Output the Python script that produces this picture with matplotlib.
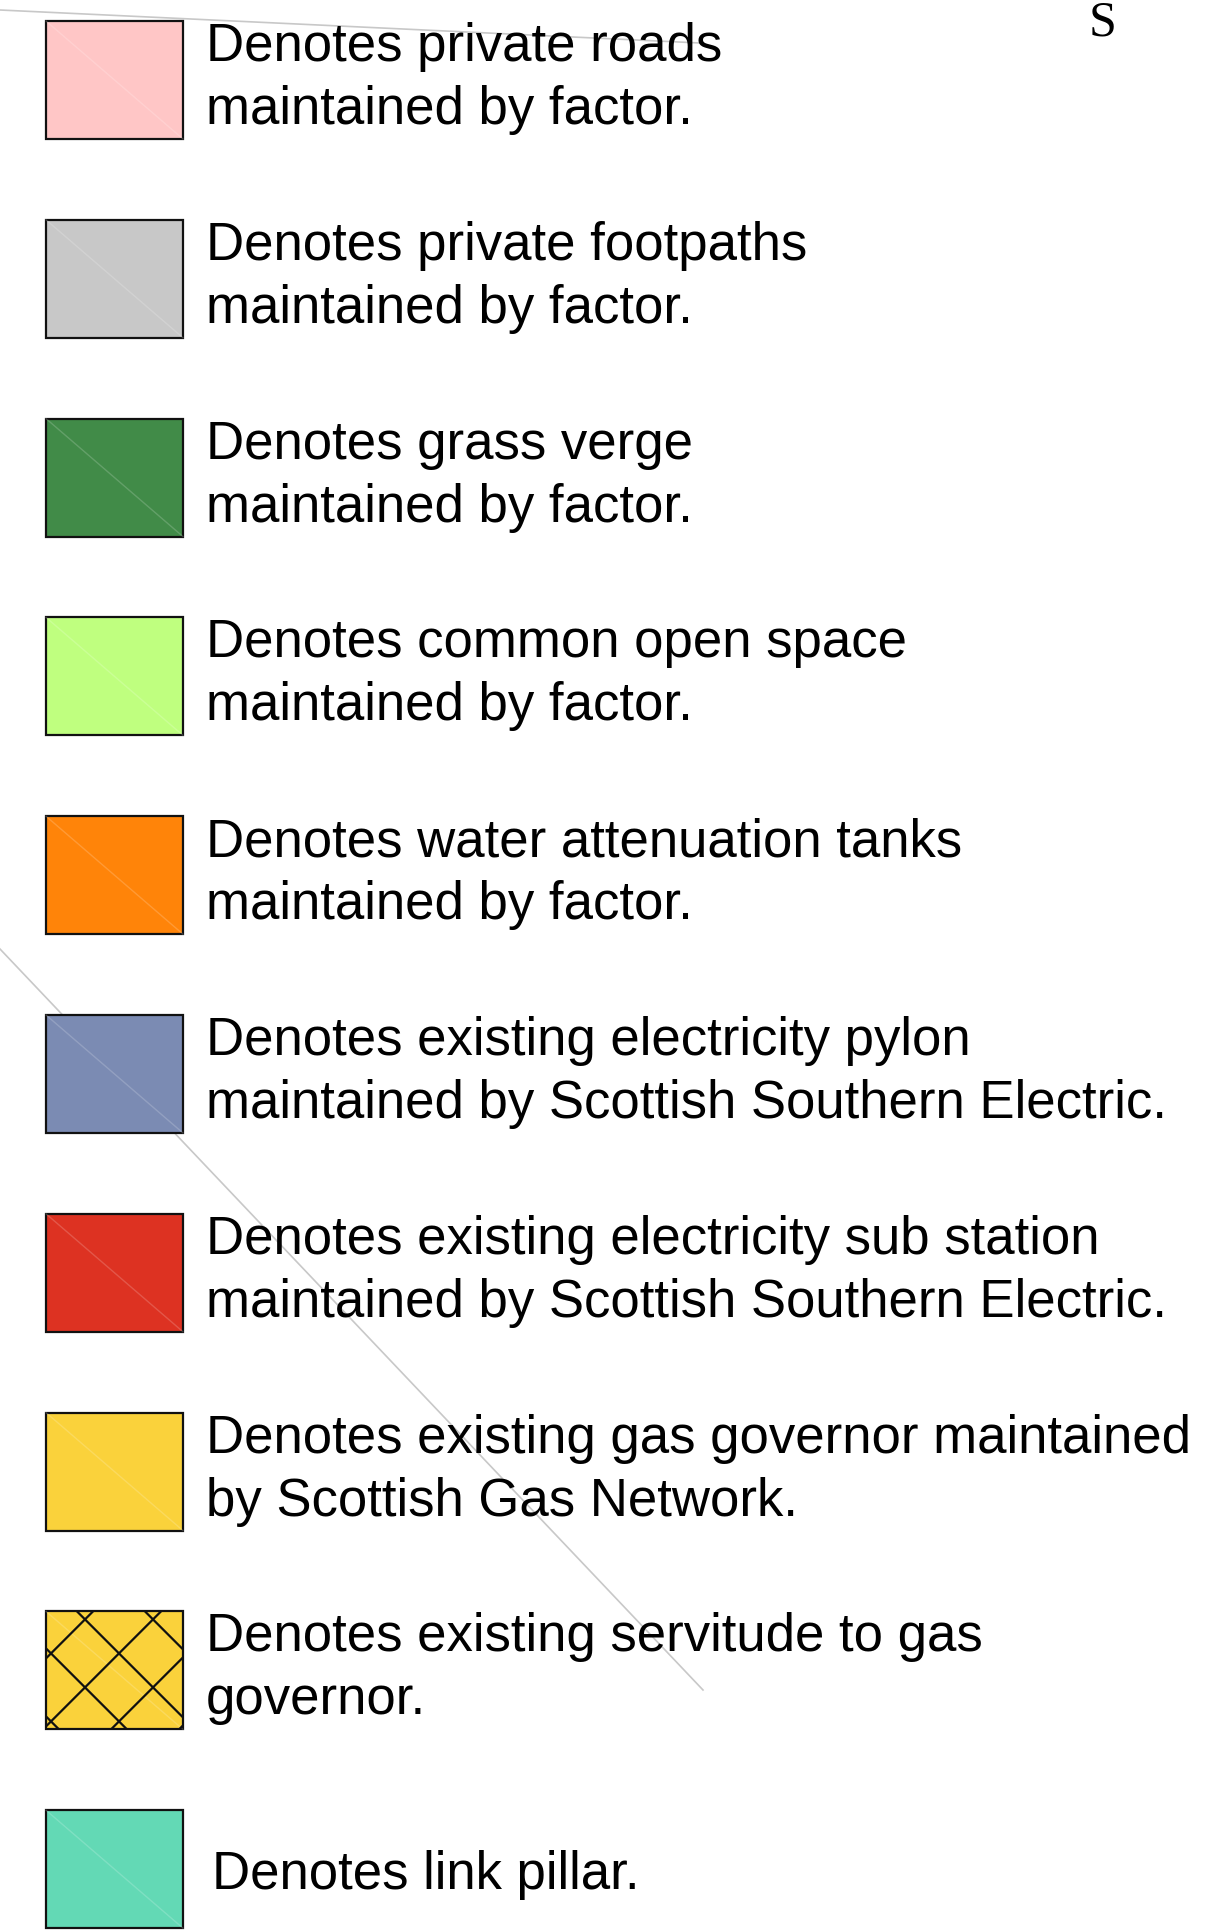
import numpy as np
import matplotlib.pyplot as plt
from matplotlib.patches import Rectangle

# legend entries: box colour and text lines
colors = ['#FFC6C6', '#C8C8C8', '#418B48', '#BFFF7F', '#FF8409',
          '#7B8BB3', '#DD3222', '#FAD23B', '#FAD23B', '#63D9B5']
labels = [
    ['Denotes private roads', 'maintained by factor.'],
    ['Denotes private footpaths', 'maintained by factor.'],
    ['Denotes grass verge', 'maintained by factor.'],
    ['Denotes common open space', 'maintained by factor.'],
    ['Denotes water attenuation tanks', 'maintained by factor.'],
    ['Denotes existing electricity pylon', 'maintained by Scottish Southern Electric.'],
    ['Denotes existing electricity sub station', 'maintained by Scottish Southern Electric.'],
    ['Denotes existing gas governor maintained', 'by Scottish Gas Network.'],
    ['Denotes existing servitude to gas', 'governor.'],
    ['Denotes link pillar.'],
]
hatched = [False, False, False, False, False, False, False, False, True, False]

W, H = 1209, 1933
fig = plt.figure(figsize=(W / 100, H / 100), dpi=100)
ax = fig.add_axes([0, 0, 1, 1])
ax.set_xlim(0, W)
ax.set_ylim(H, 0)
ax.axis('off')

box_x, box_w, box_h = 46, 137, 118
top0, step = 22, 198.8
font = 'Liberation Sans'
fs = 38

# faint construction lines from the underlying drawing
ax.plot([0, 700], [11, 44], color='#c8c8c8', lw=1.2, zorder=1)
ax.plot([0, 703], [950, 1691], color='#c8c8c8', lw=1.2, zorder=1)

for i, (c, lines) in enumerate(zip(colors, labels)):
    top = top0 + i * step
    rect = Rectangle((box_x, top), box_w, box_h, facecolor=c,
                     edgecolor='#111111', lw=1.6, zorder=3)
    ax.add_patch(rect)
    # faint diagonal inside box
    ax.plot([box_x, box_x + box_w], [top, top + box_h], color='white',
            alpha=0.18, lw=1, zorder=4)
    if hatched[i]:
        period = 68
        for c0 in np.arange(-3 * period, 4 * period, period):
            xs = np.array([box_x - 200, box_x + box_w + 200])
            # down-right lines
            l1, = ax.plot(xs, top + (xs - box_x) + c0 - 31, color='#111111',
                          lw=1.6, zorder=5)
            l1.set_clip_path(rect)
            # down-left lines
            l2, = ax.plot(xs, top - (xs - box_x) + c0 + 47, color='#111111',
                          lw=1.6, zorder=5)
            l2.set_clip_path(rect)
    if len(lines) == 2:
        ax.text(206, top + 39, lines[0], fontsize=fs, family=font,
                va='baseline', ha='left', zorder=6)
        ax.text(206, top + 102, lines[1], fontsize=fs, family=font,
                va='baseline', ha='left', zorder=6)
    else:
        ax.text(212, top + 78, lines[0], fontsize=fs, family=font,
                va='baseline', ha='left', zorder=6)

ax.text(1103, 36, 'S', fontsize=36, family='Liberation Serif',
        va='baseline', ha='center')

fig.savefig('out.png', dpi=100)
